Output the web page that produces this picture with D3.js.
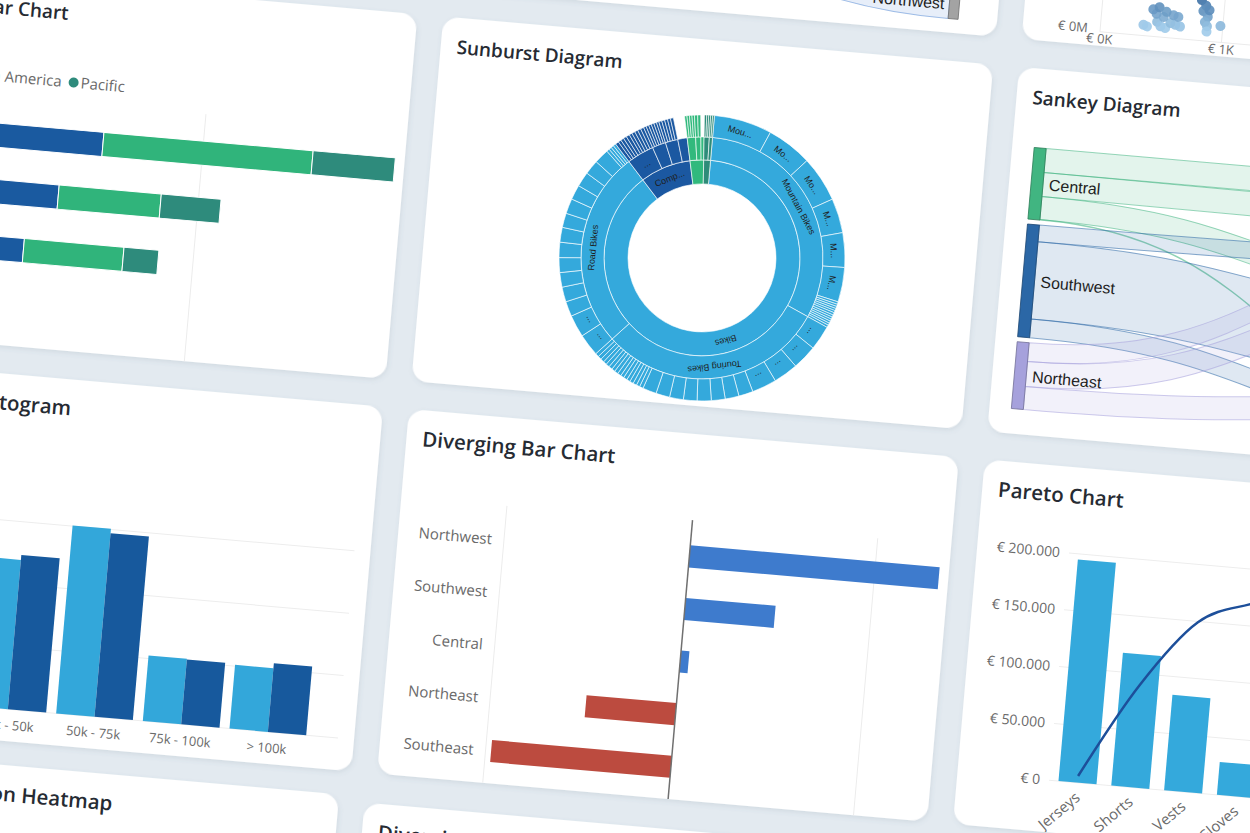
<!DOCTYPE html>
<html>
<head>
<meta charset="utf-8">
<title>Chart gallery</title>
<script src="https://cdn.jsdelivr.net/npm/d3@7"></script>
<style>
  html, body { margin: 0; padding: 0; background: #e3eaf0; overflow: hidden; }
  svg { display: block; }
  .card-title { font-family: "Open Sans", sans-serif; font-weight: 600; fill: #262b33; }
  .tick-label { font-family: "Open Sans", sans-serif; font-size: 14px; fill: #6a6a6a; }
  .node-label { font-family: "Liberation Sans", Arial, sans-serif; font-size: 16px; fill: #1e1e1e; }
  .arc-label { font-family: "Liberation Sans", Arial, sans-serif; font-size: 9px; fill: #1f1f1f; }
</style>
</head>
<body>
<svg id="board" width="1250" height="833"></svg>
<script>
const CARD_W = 552, CARD_H = 366, CARD_R = 16;
const PITCH_X = 578, PITCH_Y = 394;
const TILT = 5;
const STAGE_X = -98.1, STAGE_Y = -426.4;
// the upper rows read a little smaller in the shot
const TITLE_SIZES = [19, 19, 20.5, 20.5];

// ---------- stacked bar chart
const stackCategories = ['Bikes', 'Accessories', 'Clothing'];
const stackRegions = ['Europe', 'North America', 'Pacific'];
const europeSales = [0.60, 0.44, 0.32];
const northAmericaSales = [0.84, 0.41, 0.40];
const pacificSales = [0.33, 0.24, 0.14];
const stackTicks = [0, 1];
const regionColors = ['#1a5aa0', '#30b47b', '#2e8b7c'];

// ---------- sunburst
const mountainBikeNames = ['Mountain-200 Black, 38', 'Mountain-200 Silver, 38', 'Mountain-200 Black, 42',
    'Mountain-200 Silver, 42', 'Mountain-200 Black, 46', 'Mountain-200 Silver, 46'];
const mountainBikeSales = [23.5, 18.5, 18.5, 14, 14, 14, 1.0, 0.9, 0.9, 0.9, 0.9, 1.0, 0.9, 0.9, 0.9, 0.9, 0.9, 1.0];
const touringBikeNames = ['Touring-1000 Blue, 46', 'Touring-1000 Yellow, 46', 'Touring-1000 Blue, 50', 'Touring-1000 Yellow, 50'];
const touringBikeSales = [10, 10, 10, 10, 5.8, 5.6, 5.6, 5.7, 5.5, 5.6, 5.6, 5.6,
    1.5, 1.4, 1.5, 1.5, 1.4, 1.5, 1.4, 1.5, 1.5, 1.4, 1.5, 1.5, 1.4, 1.5, 1.5, 1.5];
const roadBikeNames = ['Road-150 Red, 62', 'Road-150 Red, 44'];
const roadBikeSales = [9, 9, 6.1, 6, 5.9, 6, 6.2, 6, 5.8, 6.1, 6, 6, 5.9, 6, 1.2, 1.1, 1.1, 1.1];
const mountainFrameSales = [1.4, 1.2, 1.3, 1.3, 1.4, 1.2, 1.3, 1.3, 1.3, 1.3];
const roadFrameSales = [1.1, 1.1, 1.1, 1.1, 1.1, 1.0];
const wheelSales = [1.2, 1.2, 1.2, 1.2, 1.2];
const handlebarSales = 4.5;
const jerseySales = [1, 1, 1, 1];
const shortsSales = [1.3, 1.2];
const vestSales = 1.5;
const helmetSales = [0.9, 0.8, 0.8];
const bottleSales = [0.8, 0.7];
const sunburstColors = ['#34a9dc', '#1b58a1', '#31b97d', '#2e8c79'];
const ringRadii = [[74, 98], [98, 121], [121, 143]];
const ringLabelFit = [0.72, 0.58, 0.49];

// ---------- sankey
const flowSources = ['Central', 'Southwest', 'Northeast'];
const flowSourceColors = ['#41b581', '#2b67a6', '#a6a1dc'];
const flowTargets = ['Accessories', 'Clothing', 'Components', 'Road Bikes', 'Mountain Bikes'];
const flowLinks = [[0, 0, 23], [0, 1, 23], [0, 3, 22], [0, 4, 0.6], [1, 2, 16], [1, 3, 74], [1, 4, 18],
    [2, 1, 18], [2, 2, 24], [2, 3, 22]];

const ribbonSources = ['Bikes', 'Clothing'];
const ribbonSourceColors = ['#5b8ed6', '#41b581'];
const ribbonTargets = ['Southwest', 'Canada', 'Northwest'];
const ribbonLinks = [[0, 0, 60], [0, 1, 50], [0, 2, 21], [1, 0, 30], [1, 1, 40]];

// ---------- scatter (x in € K, y in € M)
const scatterX = [0.35, 0.38, 0.46, 0.49, 0.53, 0.57, 0.61, 0.63, 0.59, 0.51, 0.45, 0.42, 0.47, 0.53, 0.65,
    0.81, 0.85, 0.83, 0.87, 0.85, 0.87, 0.87, 0.88, 0.98, 0.84, 0.86, 1.8, 2.4, 3.1];
const scatterY = [0.08, 0.07, 0.11, 0.08, 0.07, 0.11, 0.10, 0.16, 0.17, 0.15, 0.17, 0.20, 0.22, 0.19, 0.09,
    0.30, 0.26, 0.22, 0.18, 0.14, 0.11, 0.07, 0.23, 0.12, 0.36, 0.45, 0.9, 1.3, 1.7];
const scatterXTicks = [0, 1, 2, 3];
const scatterYTicks = [0, 1, 2];

// ---------- histogram
const incomeBands = ['< 25k', '25k - 50k', '50k - 75k', '75k - 100k', '> 100k'];
const histSeries = ['2012', '2013'];
const customers2012 = [1560, 2390, 3010, 1050, 1020];
const customers2013 = [1680, 2470, 2940, 1040, 1100];
const histTicks = [0, 1000, 2000, 3000];
const histColors = ['#33a7da', '#17599d'];

// ---------- diverging bars
const divergingRegions = ['Northwest', 'Southwest', 'Central', 'Northeast', 'Southeast'];
const divergingValues = [269, 97, 9, -97, -194];
const divergingTicks = [-200, 0, 200];

// ---------- pareto
const paretoCategories = ['Jerseys', 'Shorts', 'Vests', 'Gloves', 'Caps', 'Socks', 'Tights', 'Bib-Shorts'];
const paretoSales = [195000, 117000, 84000, 29000, 22000, 11000, 6000, 3000];
const paretoTicks = [0, 50000, 100000, 150000, 200000];

const euro = d3.formatLocale({ decimal: ',', thousands: '.', grouping: [3], currency: ['€ ', ''] }).format('$,.0f');

function cardOrigin(card) {
    const [dx, dy] = card.nudge || [0, 0];
    return [card.col * PITCH_X + dx, card.row * PITCH_Y + dy];
}

function drawStackedBar(g) {
    const rows = stackCategories.map((c, i) => ({
        category: c, 'Europe': europeSales[i], 'North America': northAmericaSales[i], 'Pacific': pacificSales[i]
    }));
    const layers = d3.stack().keys(stackRegions)(rows);
    const x = d3.scaleLinear().domain([0, 1.8]).range([100, 550]);
    const y = d3.scaleBand().domain(stackCategories).range([129, 298]).paddingInner(0.57).paddingOuter(0.285);

    g.selectAll('.grid').data(stackTicks).join('line')
        .attr('x1', d => x(d)).attr('x2', d => x(d)).attr('y1', 118).attr('y2', CARD_H)
        .attr('stroke', '#ececec');

    g.selectAll('.layer').data(layers).join('g')
        .attr('fill', (d, k) => regionColors[k])
        .selectAll('rect').data(d => d).join('rect')
            .attr('x', d => x(d[0])).attr('width', d => x(d[1]) - x(d[0]))
            .attr('y', d => y(d.data.category)).attr('height', y.bandwidth())
            .attr('stroke', '#fff').attr('stroke-width', 1);

    g.selectAll('.cat').data(stackCategories).join('text')
        .attr('class', 'tick-label').attr('x', 92).attr('y', d => y(d) + y.bandwidth() / 2)
        .attr('dy', '0.35em').attr('text-anchor', 'end').text(d => d);

    let lx = 20;
    stackRegions.forEach((name, k) => {
        g.append('circle').attr('cx', lx + 5).attr('cy', 98).attr('r', 5).attr('fill', regionColors[k]);
        const t = g.append('text').attr('class', 'tick-label').style('font-size', '15px')
            .attr('x', lx + 12).attr('y', 98).attr('dy', '0.35em').text(name);
        lx += 12 + t.node().getComputedTextLength() + 7;
    });
}

function buildSunburstTree() {
    const sub = (name, values, names) => ({
        name, children: values.map((v, i) => ({ name: (names && names[i]) || name, value: v }))
    });
    return { name: 'All', children: [
        { name: 'Bikes', children: [
            sub('Mountain Bikes', mountainBikeSales, mountainBikeNames),
            sub('Touring Bikes', touringBikeSales, touringBikeNames),
            sub('Road Bikes', roadBikeSales, roadBikeNames)] },
        { name: 'Components', children: [
            sub('Mountain Frames', mountainFrameSales), sub('Road Frames', roadFrameSales),
            sub('Wheels', wheelSales), { name: 'Handlebars', value: handlebarSales }] },
        { name: 'Clothing', children: [
            sub('Jerseys', jerseySales), sub('Shorts', shortsSales), { name: 'Vests', value: vestSales }] },
        { name: 'Accessories', children: [sub('Helmets', helmetSales), sub('Bottles and Cages', bottleSales)] }
    ]};
}

function fitLabel(text, name, maxWidth) {
    text.text(name);
    if (text.node().getComputedTextLength() <= maxWidth) return;
    for (let n = name.length - 1; n >= 0; n--) {
        text.text(name.slice(0, n).trim() + '...');
        if (text.node().getComputedTextLength() <= maxWidth) return;
    }
    text.text('');
}

function drawSunburst(g) {
    const root = d3.hierarchy(buildSunburstTree()).sum(d => d.value || 0);
    d3.partition().size([2 * Math.PI, root.height + 1])(root);
    const top = d => d.ancestors().find(a => a.depth === 1);
    const arc = d3.arc()
        .startAngle(d => d.x0).endAngle(d => d.x1)
        .innerRadius(d => ringRadii[d.depth - 1][0])
        .outerRadius(d => ringRadii[d.depth - 1][1]);

    const chart = g.append('g').attr('transform', 'translate(278.7,218)');
    const nodes = root.descendants().filter(d => d.depth > 0);

    chart.selectAll('path').data(nodes).join('path')
        .attr('d', arc)
        .attr('fill', d => sunburstColors[root.children.indexOf(top(d))])
        .attr('stroke', '#fff').attr('stroke-width', 0.6);

    nodes.forEach(d => {
        const [r0, r1] = ringRadii[d.depth - 1];
        const r = (r0 + r1) / 2;
        const arcLen = r * (d.x1 - d.x0);
        if (arcLen < 16) return;
        const angle = (d.x0 + d.x1) / 2 * 180 / Math.PI;
        const t = chart.append('text').attr('class', 'arc-label')
            .attr('transform', `rotate(${angle}) translate(0,${-r})`)
            .attr('text-anchor', 'middle').attr('dy', '0.35em');
        fitLabel(t, d.data.name, arcLen * ringLabelFit[d.depth - 1]);
    });
}

function drawFlow(g, opt) {
    const srcTotals = opt.sources.map((_, i) => d3.sum(opt.links.filter(l => l[0] === i), l => l[2]));
    const tgtTotals = opt.targets.map((_, j) => d3.sum(opt.links.filter(l => l[1] === j), l => l[2]));
    const total = d3.sum(srcTotals);
    const span = opt.bottom - opt.top;
    const h = d3.scaleLinear().domain([0, total]).range([0, span - opt.pad * (opt.sources.length - 1)]);
    const targetPad = (span - h(total)) / (opt.targets.length - 1);

    const stackNodes = (names, totals, pad) => {
        let y = opt.top;
        return names.map((name, i) => {
            const node = { name, y0: y, y1: y + h(totals[i]) };
            y = node.y1 + pad;
            return node;
        });
    };
    const srcNodes = stackNodes(opt.sources, srcTotals, opt.pad);
    const tgtNodes = stackNodes(opt.targets, tgtTotals, targetPad);

    const links = opt.links.map(l => ({ s: l[0], t: l[1], w: h(l[2]) }));
    const sOff = srcNodes.map(n => n.y0);
    links.slice().sort((a, b) => a.s - b.s || a.t - b.t).forEach(l => { l.sy = sOff[l.s]; sOff[l.s] += l.w; });
    const tOff = tgtNodes.map(n => n.y0);
    links.slice().sort((a, b) => a.t - b.t || a.s - b.s).forEach(l => { l.ty = tOff[l.t]; tOff[l.t] += l.w; });

    const xa = opt.x0 + opt.nodeWidth, xb = opt.x1, xm = (xa + xb) / 2;
    const band = l => {
        const p = d3.path();
        p.moveTo(xa, l.sy);
        p.bezierCurveTo(xm, l.sy, xm, l.ty, xb, l.ty);
        p.lineTo(xb, l.ty + l.w);
        p.bezierCurveTo(xm, l.ty + l.w, xm, l.sy + l.w, xa, l.sy + l.w);
        p.closePath();
        return p.toString();
    };

    g.append('g').selectAll('path').data(links).join('path')
        .attr('d', band)
        .attr('fill', l => opt.sourceColors[l.s]).attr('fill-opacity', 0.15)
        .attr('stroke', l => opt.sourceColors[l.s]).attr('stroke-opacity', 0.55).attr('stroke-width', 1);

    g.append('g').selectAll('rect').data(srcNodes).join('rect')
        .attr('x', opt.x0).attr('y', d => d.y0).attr('width', opt.nodeWidth).attr('height', d => d.y1 - d.y0)
        .attr('fill', (d, i) => opt.sourceColors[i])
        .attr('stroke', (d, i) => d3.color(opt.sourceColors[i]).darker(1)).attr('stroke-width', 0.8);
    g.append('g').selectAll('rect').data(tgtNodes).join('rect')
        .attr('x', opt.x1).attr('y', d => d.y0).attr('width', opt.nodeWidth).attr('height', d => d.y1 - d.y0)
        .attr('fill', opt.targetColor).attr('stroke', '#6f6f6f').attr('stroke-width', 0.8);

    g.append('g').selectAll('text').data(srcNodes).join('text')
        .attr('class', 'node-label').attr('x', xa + 6).attr('y', d => (d.y0 + d.y1) / 2)
        .attr('dy', '0.35em').text(d => d.name);
    g.append('g').selectAll('text').data(tgtNodes).join('text')
        .attr('class', 'node-label').attr('x', opt.x1 - 5).attr('y', d => (d.y0 + d.y1) / 2)
        .attr('dy', '0.35em').attr('text-anchor', 'end').text(d => d.name);
}

function drawSankeyCard(g) {
    drawFlow(g, { sources: flowSources, targets: flowTargets, links: flowLinks, sourceColors: flowSourceColors,
        targetColor: '#9aa5b1', x0: 22, x1: 520, nodeWidth: 12, top: 79, bottom: 341, pad: 5 });
}

function drawRibbon(g) {
    drawFlow(g, { sources: ribbonSources, targets: ribbonTargets, links: ribbonLinks, sourceColors: ribbonSourceColors,
        targetColor: '#a3a3a3', x0: 22, x1: 503, nodeWidth: 10, top: 62, bottom: 352, pad: 10 });
}

function drawScatter(g) {
    const x = d3.scaleLinear().domain([0, 3.7]).range([77.4, 528.8]);
    const y = d3.scaleLinear().domain([0, 2]).range([352, 82]);
    const shade = d3.scaleLinear().domain([0.05, 0.3]).range(['#a8d3f0', '#3f72a6']).clamp(true);

    g.selectAll('.vgrid').data(scatterXTicks).join('line')
        .attr('x1', d => x(d)).attr('x2', d => x(d)).attr('y1', 82).attr('y2', 352).attr('stroke', '#ebebeb');
    g.selectAll('.hgrid').data(scatterYTicks).join('line')
        .attr('x1', 77.4).attr('x2', 528.8).attr('y1', d => y(d)).attr('y2', d => y(d)).attr('stroke', '#ebebeb');

    g.selectAll('.ylab').data(scatterYTicks).join('text')
        .attr('class', 'tick-label').style('font-size', '13px')
        .attr('x', 65).attr('y', d => y(d) - 3).attr('dy', '0.35em').attr('text-anchor', 'end')
        .text(d => '€ ' + d + 'M');
    g.selectAll('.xlab').data(scatterXTicks).join('text')
        .attr('class', 'tick-label').style('font-size', '13px')
        .attr('x', d => x(d)).attr('y', 359).attr('dy', '0.35em').attr('text-anchor', 'middle')
        .text(d => '€ ' + d + 'K');

    g.selectAll('circle').data(scatterX).join('circle')
        .attr('cx', d => x(d)).attr('cy', (d, i) => y(scatterY[i])).attr('r', 5)
        .attr('fill', (d, i) => shade(scatterY[i])).attr('fill-opacity', 0.9);
}

function drawHistogram(g) {
    const x0 = d3.scaleBand().domain(incomeBands).range([74, 509]).paddingInner(0.115).paddingOuter(0.0575);
    const x1 = d3.scaleBand().domain(histSeries).range([0, x0.bandwidth()]);
    const y = d3.scaleLinear().domain([0, 3000]).range([334, 146]);
    const series = [customers2012, customers2013];

    g.selectAll('.grid').data(histTicks).join('line')
        .attr('x1', 60).attr('x2', 536).attr('y1', d => y(d)).attr('y2', d => y(d)).attr('stroke', '#ededed');

    g.selectAll('.band').data(incomeBands).join('g')
        .attr('transform', d => `translate(${x0(d)},0)`)
        .selectAll('rect').data((d, i) => series.map((s, k) => ({ k, v: s[i] }))).join('rect')
            .attr('x', d => x1(histSeries[d.k])).attr('width', x1.bandwidth())
            .attr('y', d => y(d.v)).attr('height', d => y(0) - y(d.v))
            .attr('fill', d => histColors[d.k]);

    g.selectAll('.xlab').data(incomeBands).join('text')
        .attr('class', 'tick-label').style('font-size', '13px')
        .attr('x', d => x0(d) + x0.bandwidth() / 2).attr('y', 350).attr('dy', '0.35em')
        .attr('text-anchor', 'middle').text(d => d);
}

function drawDiverging(g) {
    const x = d3.scaleLinear().domain([-200, 275]).range([106, 548]);
    const y = d3.scaleBand().domain(divergingRegions).range([96, 360]).paddingInner(0.58).paddingOuter(0.29);

    g.selectAll('.grid').data(divergingTicks.filter(d => d !== 0)).join('line')
        .attr('x1', d => x(d)).attr('x2', d => x(d)).attr('y1', 88).attr('y2', CARD_H).attr('stroke', '#ececec');

    g.selectAll('.bar').data(divergingValues).join('rect')
        .attr('x', d => x(Math.min(0, d))).attr('width', d => Math.abs(x(d) - x(0)))
        .attr('y', (d, i) => y(divergingRegions[i])).attr('height', y.bandwidth())
        .attr('fill', d => d >= 0 ? '#3e7bcd' : '#bc4b3f');

    g.append('line').attr('x1', x(0)).attr('x2', x(0)).attr('y1', 86).attr('y2', CARD_H)
        .attr('stroke', '#707070').attr('stroke-width', 1.5);

    g.selectAll('.cat').data(divergingRegions).join('text')
        .attr('class', 'tick-label').style('font-size', '15px')
        .attr('x', 94).attr('y', d => y(d) + y.bandwidth() / 2).attr('dy', '0.35em')
        .attr('text-anchor', 'end').text(d => d);
}

function drawPareto(g) {
    const x = d3.scaleBand().domain(paretoCategories).range([94, 518]).paddingInner(0.28).paddingOuter(0.14);
    const y = d3.scaleLinear().domain([0, 200000]).range([314, 86]);
    const share = d3.scaleLinear().domain([0.4, 1]).range([314, 86]);
    const total = d3.sum(paretoSales);
    const cumulative = Array.from(d3.cumsum(paretoSales), v => v / total);

    g.selectAll('.grid').data(paretoTicks).join('line')
        .attr('x1', 92).attr('x2', 540).attr('y1', d => y(d)).attr('y2', d => y(d)).attr('stroke', '#ededed');
    g.selectAll('.ylab').data(paretoTicks).join('text')
        .attr('class', 'tick-label').attr('x', 83).attr('y', d => y(d)).attr('dy', '0.35em')
        .attr('text-anchor', 'end').text(d => euro(d));

    g.selectAll('.bar').data(paretoSales).join('rect')
        .attr('x', (d, i) => x(paretoCategories[i])).attr('width', x.bandwidth())
        .attr('y', d => y(d)).attr('height', d => y(0) - y(d)).attr('fill', '#34a9dc');

    const line = d3.line()
        .x((d, i) => x(paretoCategories[i]) + x.bandwidth() / 2)
        .y(d => share(d))
        .curve(d3.curveMonotoneX);
    g.append('path').attr('d', line(cumulative)).attr('fill', 'none')
        .attr('stroke', '#1d4f9a').attr('stroke-width', 2.5);

    g.selectAll('.xlab').data(paretoCategories).join('text')
        .attr('class', 'tick-label').style('font-size', '15px')
        .attr('transform', d => `translate(${x(d) + x.bandwidth() / 2 + 5},330) rotate(-45)`)
        .attr('text-anchor', 'end').text(d => d);
}

// bottom row sits a bit off the grid in the shot, hence the nudges
const cards = [
    { col: 1, row: 0, title: 'Sales Flow', draw: drawRibbon },
    { col: 2, row: 0, title: 'Scatter Chart', draw: drawScatter },
    { col: 0, row: 1, title: 'Horizontal Bar Chart', draw: drawStackedBar },
    { col: 1, row: 1, title: 'Sunburst Diagram', draw: drawSunburst },
    { col: 2, row: 1, title: 'Sankey Diagram', draw: drawSankeyCard },
    { col: 0, row: 2, title: 'Income Tier Histogram', draw: drawHistogram },
    { col: 1, row: 2, title: 'Diverging Bar Chart', draw: drawDiverging },
    { col: 2, row: 2, title: 'Pareto Chart', draw: drawPareto },
    { col: 0, row: 3, title: 'Customer Correlation Heatmap', draw: null, nudge: [-10, -4] },
    { col: 1, row: 3, title: 'Diverging Dot Plot', draw: null, nudge: [-10, 2] }
];

const svg = d3.select('#board');
const defs = svg.append('defs');
defs.append('filter').attr('id', 'card-shadow')
    .attr('x', '-10%').attr('y', '-10%').attr('width', '120%').attr('height', '120%')
    .append('feDropShadow').attr('dx', 1).attr('dy', 2).attr('stdDeviation', 2.5)
    .attr('flood-color', '#54697c').attr('flood-opacity', 0.13);

svg.append('rect').attr('width', 1250).attr('height', 833).attr('fill', '#e3eaf0');
const stage = svg.append('g').attr('transform', `translate(${STAGE_X},${STAGE_Y}) rotate(${TILT})`);

cards.forEach((card, i) => {
    const [x, y] = cardOrigin(card);
    const g = stage.append('g').attr('transform', `translate(${x},${y})`);
    g.append('rect').attr('width', CARD_W).attr('height', CARD_H).attr('rx', CARD_R)
        .attr('fill', '#fff').attr('filter', 'url(#card-shadow)');
    const clipId = 'card-clip-' + i;
    defs.append('clipPath').attr('id', clipId)
        .append('rect').attr('width', CARD_W).attr('height', CARD_H).attr('rx', CARD_R);
    const body = g.append('g').attr('clip-path', `url(#${clipId})`);
    body.append('text').attr('class', 'card-title').style('font-size', TITLE_SIZES[card.row] + 'px')
        .attr('x', 16).attr('y', 36).text(card.title);
    if (card.draw) card.draw(body);
});
</script>
</body>
</html>
